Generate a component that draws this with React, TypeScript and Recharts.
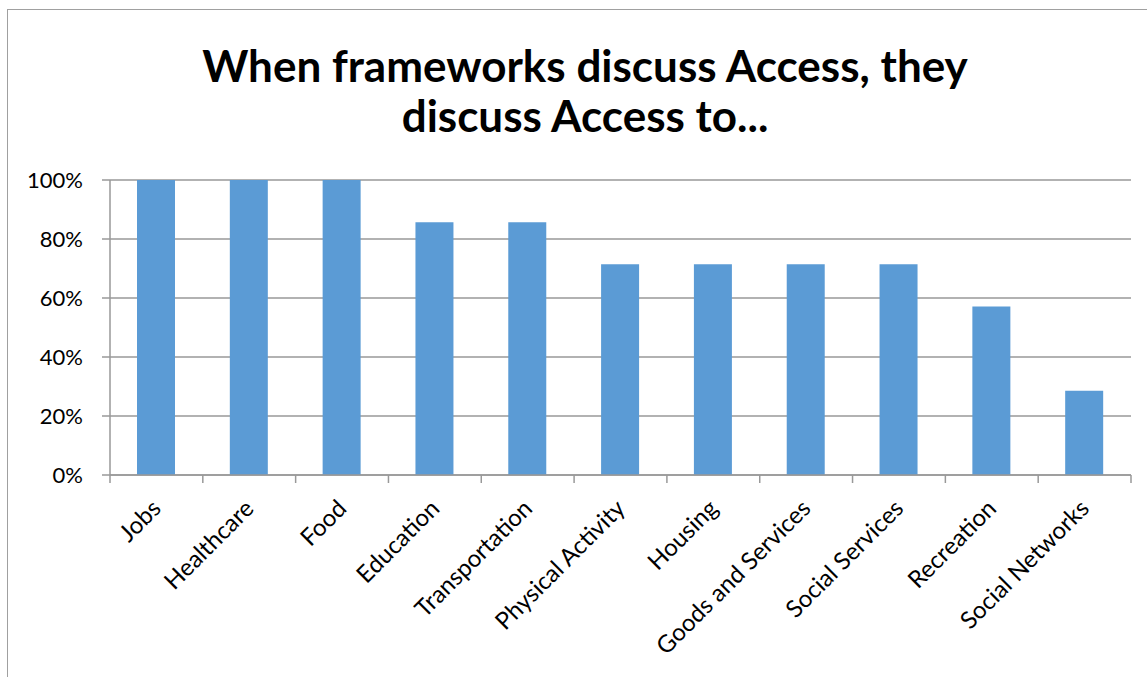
import React from "react";
import { BarChart, Bar, XAxis, YAxis, CartesianGrid } from "recharts";

const categories = [
  "Jobs",
  "Healthcare",
  "Food",
  "Education",
  "Transportation",
  "Physical Activity",
  "Housing",
  "Goods and Services",
  "Social Services",
  "Recreation",
  "Social Networks",
];
const shares = [1, 1, 1, 0.857, 0.857, 0.714, 0.714, 0.714, 0.714, 0.571, 0.286];
const yTicks = [0, 0.2, 0.4, 0.6, 0.8, 1];

const data = categories.map((c, i) => ({ name: c, value: shares[i] }));

const FONT = "Lato, 'Open Sans', sans-serif";
const AXIS_COLOR = "#999";

const XTick = (props: any) => {
  const { x, y, payload, index, visibleTicksCount, width } = props;
  const half =
    payload && typeof payload.offset === "number" && payload.offset > 0
      ? payload.offset
      : width / visibleTicksCount / 2;
  const ax = x + 6;
  const ay = y + 35;
  const isLast = index === visibleTicksCount - 1;
  return (
    <g>
      <line
        x1={x - half}
        x2={x - half}
        y1={y}
        y2={y + 8}
        stroke={AXIS_COLOR}
        strokeWidth={1.5}
      />
      {isLast && (
        <line
          x1={x + half}
          x2={x + half}
          y1={y}
          y2={y + 8}
          stroke={AXIS_COLOR}
          strokeWidth={1.5}
        />
      )}
      <text
        x={ax}
        y={ay}
        transform={`rotate(-45, ${ax}, ${ay})`}
        textAnchor="end"
        fontSize={24}
        fontFamily={FONT}
        fill="#000"
      >
        {payload.value}
      </text>
    </g>
  );
};

export default function App() {
  return (
    <div
      style={{
        position: "fixed",
        left: 0,
        top: 0,
        width: 1147,
        height: 677,
        overflow: "hidden",
        background: "#fff",
      }}
    >
      <div
        style={{
          position: "absolute",
          left: 7,
          top: 9,
          width: 1150,
          height: 700,
          border: "1px solid #a0a0a0",
          boxSizing: "border-box",
        }}
      >
        <div
          style={{
            position: "absolute",
            left: 0,
            width: 1154,
            top: 30,
            textAlign: "center",
            fontFamily: FONT,
            fontWeight: 700,
            fontSize: 44,
            lineHeight: "50px",
            color: "#000",
          }}
        >
          When frameworks discuss Access, they
          <br />
          discuss Access to...
        </div>
        <div style={{ position: "absolute", left: 0, top: 0 }}>
          <BarChart
            width={1140}
            height={670}
            data={data}
            margin={{ top: 170, right: 17, left: 42, bottom: 135 }}
          >
            <CartesianGrid vertical={false} stroke={AXIS_COLOR} strokeWidth={1.5} />
            <XAxis
              dataKey="name"
              interval={0}
              tickLine={false}
              axisLine={{ stroke: AXIS_COLOR, strokeWidth: 1.5 }}
              tickSize={0}
              tickMargin={0}
              tick={<XTick />}
              height={70}
            />
            <YAxis
              domain={[0, 1]}
              ticks={yTicks}
              tickFormatter={(v: number) => `${Math.round(v * 100)}%`}
              width={60}
              tickSize={8}
              tickMargin={19}
              axisLine={{ stroke: AXIS_COLOR, strokeWidth: 1.5 }}
              tickLine={{ stroke: AXIS_COLOR, strokeWidth: 1.5 }}
              tick={{ fontSize: 22, fontFamily: FONT, fill: "#000" }}
            />
            <Bar
              dataKey="value"
              fill="#5b9bd5"
              barSize={38}
              isAnimationActive={false}
            />
          </BarChart>
        </div>
      </div>
    </div>
  );
}
